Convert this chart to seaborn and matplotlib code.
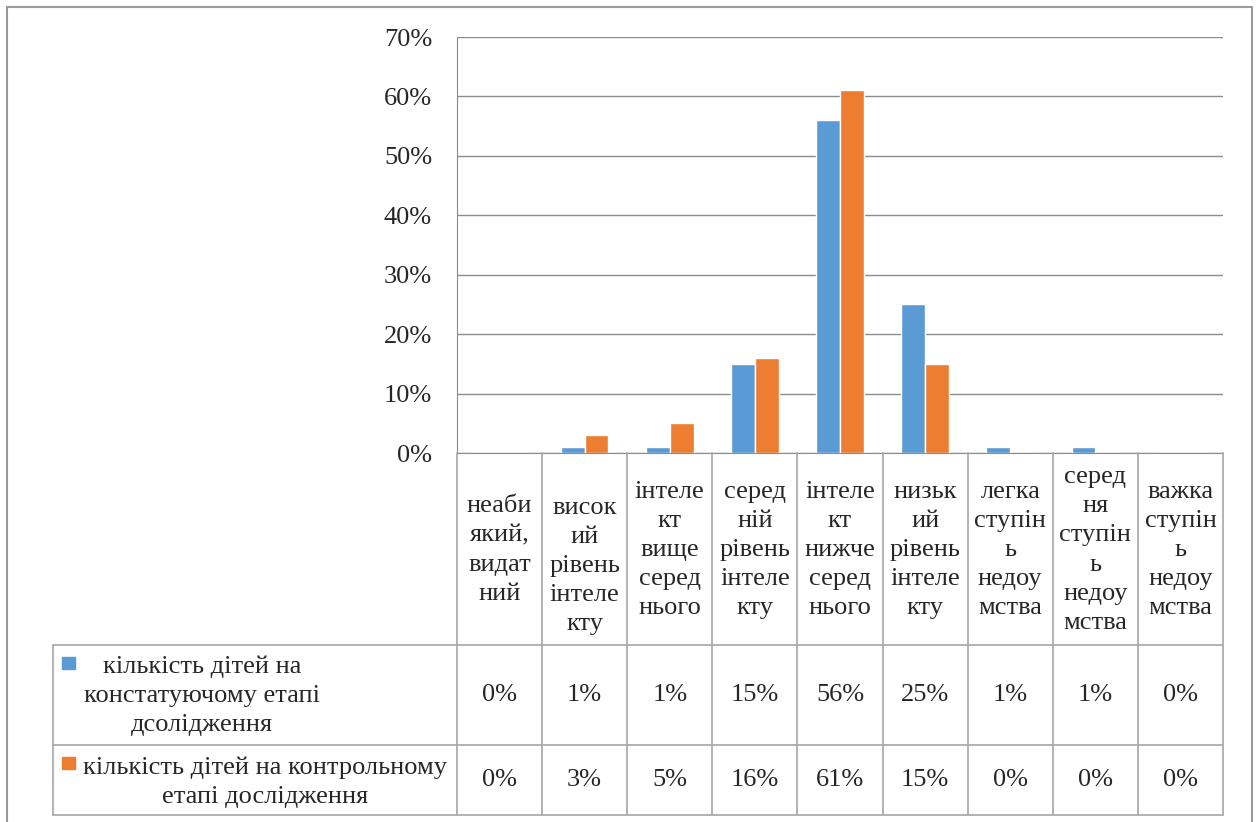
import pandas as pd
import matplotlib.pyplot as plt
import seaborn as sns
from matplotlib.lines import Line2D
from matplotlib.patches import Rectangle

# Chart data
categories = ['неабиякий, видатний', 'високий рівень інтелекту', 'інтелект вище середнього',
              'середній рівень інтелекту', 'інтелект нижче середнього', 'низький рівень інтелекту',
              'легка ступінь недоумства', 'середня ступінь недоумства', 'важка ступінь недоумства']
header_labels = ['неаби\nякий,\nвидат\nний', 'висок\nий\nрівень\nінтеле\nкту',
                 'інтеле\nкт\nвище\nсеред\nнього', 'серед\nній\nрівень\nінтеле\nкту',
                 'інтеле\nкт\nнижче\nсеред\nнього', 'низьк\nий\nрівень\nінтеле\nкту',
                 'легка\nступін\nь\nнедоу\nмства', 'серед\nня\nступін\nь\nнедоу\nмства',
                 'важка\nступін\nь\nнедоу\nмства']
stage1 = [0, 1, 1, 15, 56, 25, 1, 1, 0]
stage2 = [0, 3, 5, 16, 61, 15, 0, 0, 0]
series_names = ['кількість дітей на констатуючому етапі дсолідження',
                'кількість дітей на контрольному етапі дослідження']
legend_lines = [['кількість дітей на', 'констатуючому етапі', 'дсолідження'],
                ['кількість дітей на контрольному', 'етапі дослідження']]
yticks = [0, 10, 20, 30, 40, 50, 60, 70]

blue = '#5B9BD5'
orange = '#ED7D31'
grid_col = '#8C8C8C'
line_col = '#A6A6A6'
fs = 19
ls = 1.42

df = pd.DataFrame({
    'category': categories * 2,
    'value': [v / 100 for v in stage1] + [v / 100 for v in stage2],
    'series': [series_names[0]] * 9 + [series_names[1]] * 9,
})

sns.set_style('white')
plt.rcParams['font.family'] = ['Liberation Serif', 'DejaVu Serif']

W, H = 1256, 822
fig = plt.figure(figsize=(W / 100, H / 100), dpi=100)

def fx(px):
    return px / W

def fy(py):
    return 1 - py / H

# Plot area geometry (pixels)
left, right, top, bottom = 457, 1223, 37, 453
ax = fig.add_axes([fx(left), fy(bottom), fx(right - left), (bottom - top) / H])

sns.barplot(data=df, x='category', y='value', hue='series', palette=[blue, orange],
            width=0.56, ax=ax, legend=False, saturation=1)

ax.set_ylim(0, 0.7)
ax.set_yticks([t / 100 for t in yticks])
ax.set_yticklabels([f'{t}%' for t in yticks], fontsize=fs)
ax.tick_params(axis='y', length=0, pad=18)
ax.set_xticks([])
ax.set_xlabel('')
ax.set_ylabel('')
ax.yaxis.grid(True, color=grid_col, linewidth=1)
ax.set_axisbelow(True)
for s in ['top', 'right']:
    ax.spines[s].set_visible(False)
ax.spines['left'].set_color(grid_col)
ax.spines['bottom'].set_color(grid_col)

def hline(y, x0, x1, color=line_col, lw=1.2):
    fig.add_artist(Line2D([fx(x0), fx(x1)], [fy(y), fy(y)], color=color, lw=lw,
                          transform=fig.transFigure))

def vline(x, y0, y1, color=line_col, lw=1.2):
    fig.add_artist(Line2D([fx(x), fx(x)], [fy(y0), fy(y1)], color=color, lw=lw,
                          transform=fig.transFigure))

# Outer chart frame
hline(7, 7, 1252, color='#9A9A9A', lw=1.5)
vline(7, 7, 822, color='#9A9A9A', lw=1.5)
vline(1252, 7, 822, color='#9A9A9A', lw=1.5)

# Data table
cell_w = (right - left) / len(categories)
row1_top, row2_top, table_bottom = 645, 745, 815
for k in range(len(categories) + 1):
    vline(left + k * cell_w, bottom, table_bottom)
vline(53, row1_top, table_bottom)
for y in [row1_top, row2_top, table_bottom]:
    hline(y, 53, right)

for i, lab in enumerate(header_labels):
    cx = left + (i + 0.5) * cell_w
    cy = 566 if i == 1 else 550
    fig.text(fx(cx), fy(cy), lab, ha='center', va='center', fontsize=fs, linespacing=ls)
    fig.text(fx(cx), fy(695), f'{stage1[i]}%', ha='center', va='center', fontsize=fs)
    fig.text(fx(cx), fy(780), f'{stage2[i]}%', ha='center', va='center', fontsize=fs)

# Legend keys inside the table
fig.add_artist(Rectangle((fx(62), fy(669)), 13 / W, 12 / H, color=blue, transform=fig.transFigure))
fig.add_artist(Rectangle((fx(62), fy(769)), 13 / W, 12 / H, color=orange, transform=fig.transFigure))
fig.text(fx(202), fy(696), '\n'.join(legend_lines[0]), ha='center', va='center',
         fontsize=fs, linespacing=ls)
fig.text(fx(265), fy(782), '\n'.join(legend_lines[1]), ha='center', va='center',
         fontsize=fs, linespacing=ls)

fig.savefig('out.png', dpi=100)
